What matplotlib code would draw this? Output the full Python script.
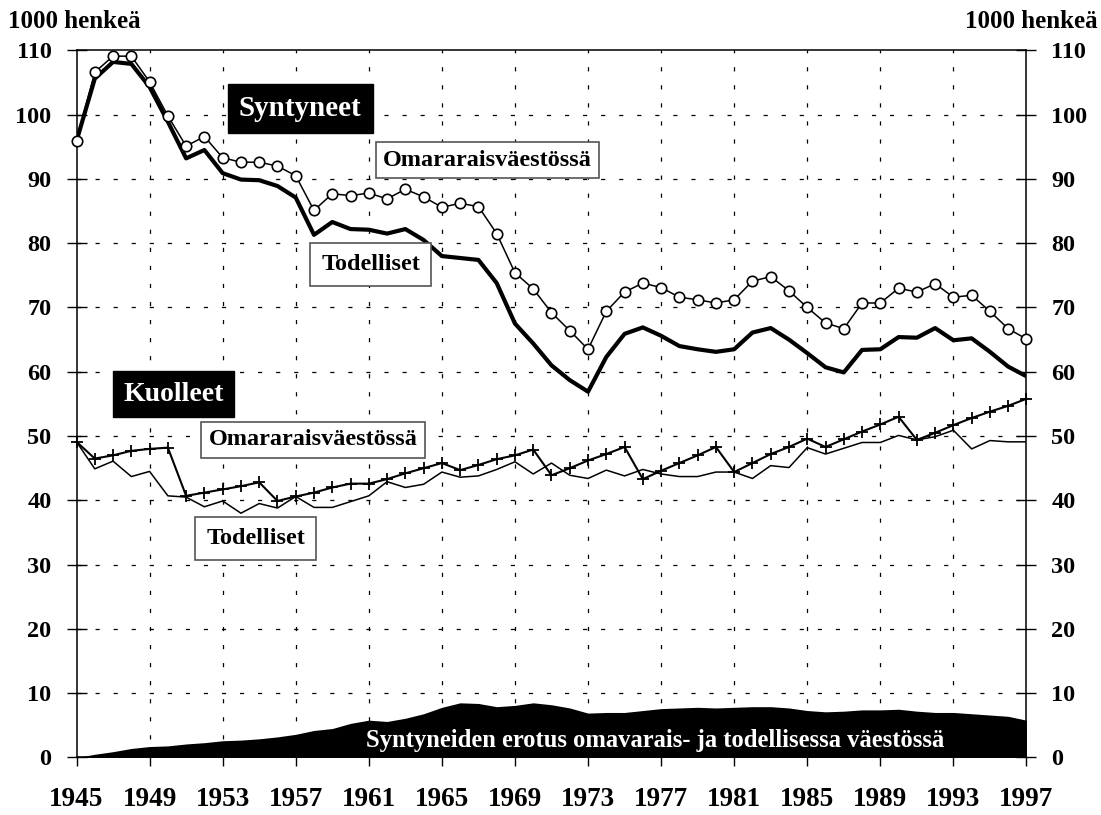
import matplotlib
matplotlib.use("Agg")
import matplotlib.pyplot as plt

plt.rcParams["font.family"] = ["Liberation Serif", "DejaVu Serif"]
plt.rcParams["font.weight"] = "bold"
plt.rcParams["lines.scale_dashes"] = False

years = list(range(1945, 1998))

# Syntyneet, omavaraisväestössä (circles)
born_own = [95.9, 106.6, 109.1, 109.1, 105.1, 99.8, 95.1, 96.6, 93.3, 92.6,
            92.6, 92.0, 90.5, 85.1, 87.7, 87.4, 87.8, 86.9, 88.4, 87.2,
            85.6, 86.2, 85.7, 81.5, 75.4, 72.9, 69.2, 66.4, 63.5, 69.4,
            72.4, 73.8, 73.1, 71.6, 71.2, 70.7, 71.2, 74.1, 74.8, 72.6,
            70.0, 67.6, 66.7, 70.7, 70.7, 73.0, 72.4, 73.7, 71.6, 71.9,
            69.4, 66.7, 65.1]

# Syntyneet, todelliset (thick line)
born_real = [95.9, 105.6, 108.2, 107.9, 104.3, 98.9, 93.2, 94.5, 90.9, 89.9,
             89.8, 88.9, 87.1, 81.3, 83.3, 82.2, 82.1, 81.5, 82.2, 80.5,
             78.0, 77.7, 77.4, 73.8, 67.5, 64.4, 61.0, 58.7, 56.9, 62.3,
             65.9, 66.9, 65.6, 64.0, 63.5, 63.1, 63.5, 66.1, 66.8, 65.0,
             62.9, 60.7, 59.9, 63.4, 63.5, 65.4, 65.3, 66.8, 64.9, 65.2,
             63.1, 60.8, 59.3]

# Kuolleet, omavaraisväestössä (plus markers)
dead_own = [49.1, 46.5, 47.0, 47.7, 48.0, 48.2, 40.7, 41.2, 41.7, 42.2,
            42.8, 39.9, 40.6, 41.2, 42.0, 42.6, 42.6, 43.3, 44.2, 45.0,
            45.8, 44.7, 45.5, 46.4, 47.0, 47.9, 43.9, 45.0, 46.2, 47.2,
            48.3, 43.3, 44.6, 45.8, 47.0, 48.3, 44.4, 45.8, 47.2, 48.3,
            49.6, 48.3, 49.5, 50.7, 51.8, 53.0, 49.4, 50.5, 51.7, 52.8,
            53.8, 54.7, 55.8]

# Kuolleet, todelliset (thin line)
dead_real = [49.1, 44.9, 46.1, 43.7, 44.5, 40.7, 40.5, 39.0, 39.9, 38.0,
             39.5, 38.8, 40.6, 38.9, 38.9, 39.8, 40.7, 42.9, 42.0, 42.5,
             44.4, 43.6, 43.8, 44.8, 46.0, 44.1, 45.8, 43.9, 43.4, 44.7,
             43.8, 44.8, 44.1, 43.7, 43.7, 44.4, 44.4, 43.4, 45.4, 45.1,
             48.2, 47.2, 48.1, 49.0, 49.0, 50.1, 49.4, 49.9, 50.9, 48.0,
             49.3, 49.1, 49.1]

# Syntyneiden erotus (filled area)
born_diff = [0.0, 0.5, 0.9, 1.4, 1.7, 1.8, 2.1, 2.3, 2.6, 2.7,
             2.9, 3.2, 3.6, 4.2, 4.5, 5.3, 5.8, 5.6, 6.1, 6.8,
             7.8, 8.5, 8.4, 7.9, 8.1, 8.5, 8.2, 7.7, 6.9, 7.0,
             7.0, 7.3, 7.6, 7.7, 7.8, 7.7, 7.8, 7.9, 7.9, 7.7,
             7.3, 7.1, 7.2, 7.4, 7.4, 7.5, 7.2, 7.0, 7.0, 6.8,
             6.6, 6.4, 5.8]

year_ticks = list(range(1945, 1998, 4))
value_ticks = list(range(0, 111, 10))

fig = plt.figure(figsize=(11.01, 8.15), dpi=100)
ax = fig.add_axes([0.0695, 0.0706, 0.8628, 0.8676])

ax.fill_between(years, 0, born_diff, color="black", linewidth=0, zorder=2)
ax.plot(years, born_real, color="black", linewidth=3.0, zorder=3)
ax.plot(years, born_own, color="black", linewidth=1.1, marker="o", markersize=7.5,
        markerfacecolor="white", markeredgecolor="black", markeredgewidth=1.2,
        zorder=4, clip_on=False)
ax.plot(years, dead_real, color="black", linewidth=1.1, zorder=3)
ax.plot(years, dead_own, color="black", linewidth=1.5, marker="+", markersize=9,
        markeredgewidth=1.3, zorder=4, clip_on=False)

ax.set_xlim(1945, 1997)
ax.set_ylim(0, 110)
ax.set_xticks(year_ticks)
ax.set_yticks(value_ticks)
ax.tick_params(axis="x", direction="out", length=6.5, width=1, pad=15, labelsize=19.5)
ax.tick_params(axis="y", direction="inout", length=14, width=1, pad=11, labelsize=17.5,
               left=True, right=True, labelleft=True, labelright=True)

for x in year_ticks[1:-1]:
    ax.axvline(x, color="black", linewidth=0.9, linestyle=(0, (3, 10)), zorder=1)
for y in value_ticks[1:-1]:
    ax.axhline(y, color="black", linewidth=0.9, linestyle=(0, (3, 10)), zorder=1)

for s in ax.spines.values():
    s.set_linewidth(1.1)

fig.text(0.007, 0.974, "1000 henkeä", fontsize=18, fontweight="bold", ha="left", va="center")
fig.text(0.997, 0.974, "1000 henkeä", fontsize=18, fontweight="bold", ha="right", va="center")

black_box = dict(boxstyle="square,pad=0.38", facecolor="black", edgecolor="black")
white_box = dict(boxstyle="square,pad=0.3", facecolor="white", edgecolor="#555555", linewidth=1.2)

ax.text(1957.25, 100.9, "Syntyneet", color="white", fontsize=21, fontweight="bold",
        ha="center", va="center", bbox=black_box, zorder=6)
ax.text(1967.5, 92.9, "Omararaisväestössä", fontsize=17.5, fontweight="bold",
        ha="center", va="center", bbox=white_box, zorder=6)
ax.text(1961.1, 76.7, "Todelliset", fontsize=17.5, fontweight="bold",
        ha="center", va="center", bbox=dict(white_box, boxstyle="square,pad=0.45"), zorder=6)
ax.text(1950.3, 56.5, "Kuolleet", color="white", fontsize=20, fontweight="bold",
        ha="center", va="center", bbox=black_box, zorder=6)
ax.text(1957.95, 49.4, "Omararaisväestössä", fontsize=17.5, fontweight="bold",
        ha="center", va="center", bbox=white_box, zorder=6)
ax.text(1954.8, 34.1, "Todelliset", fontsize=17.5, fontweight="bold",
        ha="center", va="center", bbox=dict(white_box, boxstyle="square,pad=0.45"), zorder=6)
ax.text(1976.7, 2.7, "Syntyneiden erotus omavarais- ja todellisessa väestössä",
        color="white", fontsize=17.7, fontweight="bold", ha="center", va="center", zorder=6)

fig.savefig("out.png", dpi=100)
